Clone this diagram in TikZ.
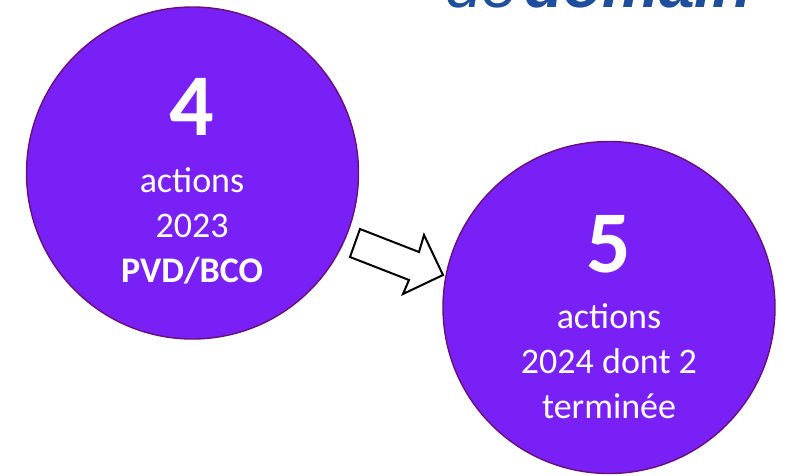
\documentclass[tikz,border=0pt]{standalone}
\usepackage{fontspec}
\setmainfont{Carlito}
\newfontfamily\headfont{Liberation Sans}
\definecolor{circfill}{HTML}{7920F7}
\definecolor{circline}{HTML}{6A0E78}
\definecolor{headblue}{HTML}{1F4E9C}
\begin{document}
\begin{tikzpicture}[x=1pt,y=-1pt,
  bubble/.style={circle,draw=circline,line width=1.4pt,fill=circfill,minimum size=332pt,inner sep=0pt},
  bignum/.style={anchor=base,text=white,font=\fontsize{88}{88}\selectfont\bfseries,inner sep=0pt},
  small/.style={anchor=base,text=white,font=\fontsize{36}{45}\selectfont,inner sep=0pt},
  blockarrow/.style={draw=black,fill=white,line width=2pt,line join=miter},
  head/.style={anchor=base west,text=headblue,inner sep=0pt}]
\useasboundingbox (0,0) rectangle (788,475);
\clip (0,0) rectangle (788,475);
% header text, cut off at the top
\node[head,font=\headfont\fontsize{66}{66}\selectfont\itshape] (hde) at (445,7) {de};
\node[head,font=\headfont\fontsize{64}{64}\selectfont\bfseries\itshape] (hdom) at (524,7) {domain};
% circles
\node[bubble] (c1) at (192.5,173) {};
\node[bubble] (c2) at (609,307.5) {};
% texts of circle 1
\node[bignum] (n1) at (192,135) {4};
\node[small] (a1) at (192,192) {actions};
\node[small] (y1) at (192,237) {2023};
\node[small,font=\fontsize{36}{45}\selectfont\bfseries] (p1) at (192,282) {PVD/BCO};
% texts of circle 2
\node[bignum] (n2) at (609,272) {5};
\node[small] (a2) at (609,328) {actions};
\node[small] (y2) at (609,373) {2024 dont 2};
\node[small] (t2) at (609,418) {terminée};
% block arrow between the circles
\draw[blockarrow] (360,229) -- (419,252) -- (424,235) -- (443,275) -- (403,294) -- (409,280) -- (350,257) -- cycle;
\end{tikzpicture}
\end{document}
